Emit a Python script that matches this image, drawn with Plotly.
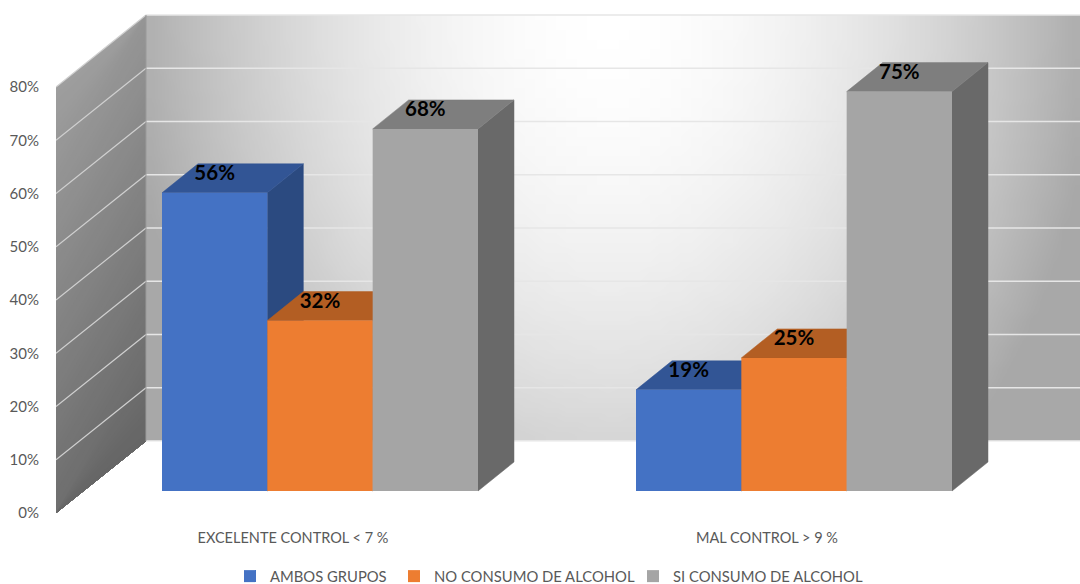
import plotly.graph_objects as go

# ---- data ----
categories = ["EXCELENTE CONTROL < 7 %", "MAL CONTROL > 9 %"]
series_names = ["AMBOS GRUPOS", "NO CONSUMO DE ALCOHOL", "SI CONSUMO DE ALCOHOL"]
ambos_grupos = [56, 19]
no_consumo = [32, 25]
si_consumo = [68, 75]
y_ticks = [0, 10, 20, 30, 40, 50, 60, 70, 80]
y_tick_labels = ["0%", "10%", "20%", "30%", "40%", "50%", "60%", "70%", "80%"]

front_colors = ["#4472C4", "#ED7D31", "#A5A5A5"]
top_colors = ["#325595", "#B35E23", "#7E7E7E"]
side_colors = ["#2B4A80", "#9E5320", "#696969"]

# ---- projection of the pseudo-3D box, in axis units ----
PX_X = 474.0      # px per category step
PX_Y = 5.325      # px per percent
X0 = 320.0        # px position of the first category
W, H = 1080, 600  # page is cropped to 584; the spare height keeps the legend from pushing the margin
ML, BOTTOM_PX = 56, 519
MB = H - BOTTOM_PX


def xu(px):
    return (px - X0) / PX_X


BAR_W = 316 / 3 / PX_X
DX, DY = 36 / PX_X, 29 / PX_Y            # bar depth
WALL_DX, WALL_DY = 90 / PX_X, 72 / PX_Y  # wall depth
FRONT = 22 / PX_Y                        # front plane sits above the tick zero
WALL_LEFT = xu(ML)
WALL_BACK = WALL_LEFT + WALL_DX
X_MAX = xu(W)
Y_TOP = 80
LABEL_LIFT = 3.4
TICK_SHIFT = -27 / PX_X

fig = go.Figure()


def grey(v):
    v = int(round(max(0, min(255, v))))
    return f"rgb({v},{v},{v})"


# back wall gradient (decoration only): explicit cell edges so it stops at the wall's border
nx, ny = 90, 44
gx = [WALL_BACK + (X_MAX - WALL_BACK) * i / nx for i in range(nx + 1)]
gy = [WALL_DY + Y_TOP * j / ny for j in range(ny + 1)]
z = []
for j in range(ny):
    row = []
    py = 513 - (gy[j] + gy[j + 1]) / 2 * PX_Y
    for i in range(nx):
        px = X0 + (gx[i] + gx[i + 1]) / 2 * PX_X
        t = (((px - 610) / 480) ** 2 + ((py - 14) / 620) ** 2) ** 0.5
        row.append(max(168, 255 - 85 * t ** 1.9))
    z.append(row)
fig.add_trace(go.Heatmap(x=gx, y=gy, z=z, zmin=0, zmax=255, zsmooth="fast",
                         colorscale=[[0, "#000000"], [1, "#ffffff"]],
                         showscale=False, hoverinfo="skip"))

# left wall gradient (decoration only): painted from the light end down
shapes = []
TILT = 15
steps = 70
for s in range(steps, 0, -1):
    a = -TILT + (Y_TOP + TILT) * s / steps
    col = grey(110 + 48 * a / Y_TOP)
    y_left = max(0, min(Y_TOP, a))
    y_back = max(0, min(Y_TOP, a + TILT))
    pts = [(WALL_LEFT, 0), (WALL_BACK, WALL_DY), (WALL_BACK, y_back + WALL_DY), (WALL_LEFT, y_left)]
    path = "M" + "L".join(f"{p:.5f},{q:.4f}" for p, q in pts) + "Z"
    shapes.append(dict(type="path", path=path, xref="x", yref="y", layer="below",
                       fillcolor=col, line=dict(width=0)))

# grid lines on both walls
lx, ly, bx, by = [], [], [], []
for t in y_ticks:
    if t > 0:
        bx += [WALL_BACK, X_MAX, None]
        by += [t + WALL_DY, t + WALL_DY, None]
        lx += [WALL_LEFT, WALL_BACK, None]
        ly += [t, t + WALL_DY, None]
fig.add_trace(go.Scatter(x=bx, y=by, mode="lines", line=dict(color="#e6e6e6", width=1.6),
                         showlegend=False, hoverinfo="skip"))
fig.add_trace(go.Scatter(x=lx, y=ly, mode="lines", line=dict(color="#d0d0d0", width=1.2),
                         showlegend=False, hoverinfo="skip"))
fig.add_trace(go.Scatter(x=[WALL_BACK, X_MAX], y=[WALL_DY, WALL_DY], mode="lines",
                         line=dict(color="#eeeeee", width=1.5), showlegend=False, hoverinfo="skip"))
fig.add_trace(go.Scatter(x=[WALL_BACK, WALL_BACK], y=[WALL_DY, Y_TOP + WALL_DY], mode="lines",
                         line=dict(color="#9a9a9a", width=1), showlegend=False, hoverinfo="skip"))

all_values = [ambos_grupos, no_consumo, si_consumo]


def bar_left(group, idx):
    return group + (idx - 1.5) * BAR_W


# side and top faces of every bar, painted back-to-front
for g in range(len(categories)):
    for i, vals in enumerate(all_values):
        xl = bar_left(g, i)
        xr = xl + BAR_W
        top = vals[g] + FRONT
        fig.add_trace(go.Scatter(
            x=[xr, xr + DX, xr + DX, xr, xr],
            y=[FRONT, FRONT + DY, top + DY, top, FRONT],
            mode="lines", fill="toself", fillcolor=side_colors[i],
            line=dict(color=side_colors[i], width=0.5), showlegend=False, hoverinfo="skip"))
        fig.add_trace(go.Scatter(
            x=[xl, xr, xr + DX, xl + DX, xl],
            y=[top, top, top + DY, top + DY, top],
            mode="lines", fill="toself", fillcolor=top_colors[i],
            line=dict(color=top_colors[i], width=0.5), showlegend=False, hoverinfo="skip"))

# front faces, each with its own legend so the entries sit where the reference has them
legend_ids = ["legend", "legend2", "legend3"]
for i, vals in enumerate(all_values):
    fig.add_trace(go.Bar(x=[0, 1], y=vals, name=series_names[i], yaxis="y2",
                         legend=legend_ids[i],
                         marker=dict(color=front_colors[i], line=dict(width=0))))

# data labels
lab_x, lab_y, lab_t = [], [], []
for i, vals in enumerate(all_values):
    for g, v in enumerate(vals):
        lab_x.append(bar_left(g, i) + BAR_W / 2)
        lab_y.append(v + LABEL_LIFT)
        lab_t.append(f"{v}%")
fig.add_trace(go.Scatter(x=lab_x, y=lab_y, text=lab_t, mode="text", yaxis="y2",
                         textposition="middle center", cliponaxis=False,
                         textfont=dict(family="Lato", size=20.5, color="#000000", weight="bold"),
                         showlegend=False, hoverinfo="skip"))


def legend_at(text_start_px):
    return dict(orientation="h", x=(text_start_px - 40 - ML) / (W - ML), xanchor="left",
                y=-0.079, yanchor="top", font=dict(size=14.8, color="#595959"),
                bgcolor="rgba(0,0,0,0)")


fig.update_layout(
    width=W, height=H, autosize=False,
    margin=dict(l=ML, r=0, t=0, b=MB, pad=0),
    paper_bgcolor="#ffffff", plot_bgcolor="#ffffff",
    font=dict(family="Lato", color="#595959", size=14),
    barmode="group", bargap=1 / 3, bargroupgap=0,
    shapes=shapes,
    xaxis=dict(range=[WALL_LEFT, X_MAX], tickvals=[g + TICK_SHIFT for g in range(len(categories))],
               ticktext=categories, showgrid=False, zeroline=False, showline=False,
               ticks="outside", ticklen=6, tickcolor="rgba(0,0,0,0)",
               tickfont=dict(size=14.5, color="#595959")),
    yaxis=dict(range=[(513 - BOTTOM_PX) / PX_Y, 513 / PX_Y], tickvals=y_ticks, ticktext=y_tick_labels,
               showgrid=False, zeroline=False, showline=False, ticks="outside", ticklen=13,
               tickcolor="rgba(0,0,0,0)", tickfont=dict(size=15, color="#595959")),
    yaxis2=dict(range=[(491 - BOTTOM_PX) / PX_Y, 491 / PX_Y], overlaying="y", visible=False),
    legend=legend_at(270),
    legend2=legend_at(434),
    legend3=legend_at(673),
)

# the page's default body margin would push the figure 8 px off; the page is cropped to the window
fig.write_html("out.html", config=dict(displayModeBar=False),
               post_script="document.body.style.margin='0';document.body.style.overflow='hidden';"
                           "document.documentElement.style.overflow='hidden';")
